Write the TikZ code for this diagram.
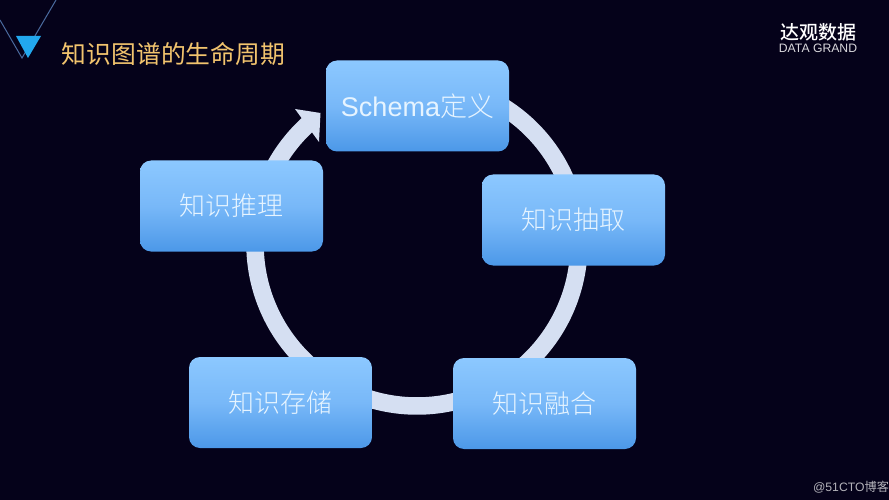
\documentclass[tikz,border=0pt]{standalone}
\usepackage{fontspec}
\setmainfont{Liberation Sans}
\newfontfamily\cjk{Noto Sans CJK SC Light}
\newfontfamily\cjkreg{Noto Sans CJK SC}
\newfontfamily\cjkmed{Noto Sans CJK SC Medium}
\usetikzlibrary{shadings}
\definecolor{bgc}{HTML}{05021A}
\definecolor{ringc}{HTML}{D5DFF2}
\definecolor{boxtop}{HTML}{8CC8FF}
\definecolor{boxmid}{HTML}{78B8F8}
\definecolor{boxbot}{HTML}{4C98E8}
\definecolor{titlec}{HTML}{F2C46E}
\definecolor{linec}{HTML}{4A6A9E}
\definecolor{trianglec}{HTML}{22A8EE}
\definecolor{boxtext}{HTML}{E6F4FF}
\tikzset{
  x=1pt,y=-1pt,
  stagebox/.style={rectangle,rounded corners=11pt,minimum width=183pt,minimum height=91pt,
    top color=boxtop,bottom color=boxbot,middle color=boxmid,text=boxtext,inner sep=0pt,font=\fontsize{26}{26}\selectfont},
}
\begin{document}
\begin{tikzpicture}
\useasboundingbox (0,0) rectangle (889,500);
\fill[bgc] (0,0) rectangle (889,500);
% decoration
\coordinate (d0) at (0,20);
\coordinate (d1) at (22,58);
\coordinate (d2) at (56,0);
\draw[linec,line width=1pt] (d0) -- (d1) -- (d2);
\fill[trianglec] (16,36) -- (41,36) -- (28,58) -- cycle;
% title
\node[inner sep=0pt,text=titlec,font=\cjkreg\fontsize{24.8}{25}\selectfont] (title) at (173.5,54) {知识图谱的生命周期};
% logo
\node[inner sep=0pt,text=white,font=\cjkmed\fontsize{19}{19}\selectfont] (logoa) at (818,32) {达观数据};
\node[inner sep=0pt,text=white!85!bgc,font=\fontsize{12.2}{12}\selectfont] (logob) at (818,48) {DATA GRAND};
% ring with arrow head
\draw[ringc,line width=17.5pt,domain=60:-229,samples=180,smooth] plot ({417+162*cos(\x)},{244-162*sin(\x)});
\fill[ringc] (295,109) -- (320.5,113) -- (319,142) -- cycle;
% boxes
\node[stagebox,font=\fontsize{27}{27}\selectfont] (s1) at (417.5,106) {Schema{\cjk 定义}};
\node[stagebox] (s2) at (573.5,220) {\cjk 知识抽取};
\node[stagebox] (s3) at (544.5,403.5) {\cjk 知识融合};
\node[stagebox] (s4) at (280.5,402.5) {\cjk 知识存储};
\node[stagebox] (s5) at (231.5,206) {\cjk 知识推理};
% footer
\node[inner sep=0pt,text=white!70!bgc,font=\fontsize{12.2}{12}\selectfont] (foot) at (851,487) {@51CTO{\cjkreg 博客}};
\end{tikzpicture}
\end{document}
